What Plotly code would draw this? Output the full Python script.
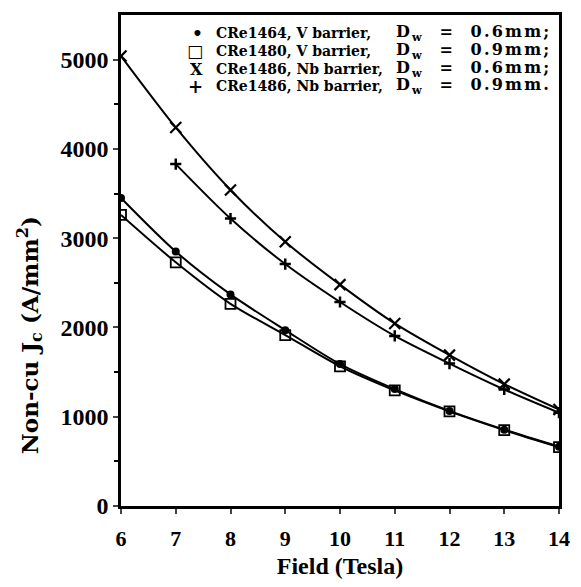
import plotly.graph_objects as go

field = [6, 7, 8, 9, 10, 11, 12, 13, 14]
field_nb09 = [7, 8, 9, 10, 11, 12, 13, 14]

jc_1464_v06 = [3450, 2850, 2370, 1970, 1590, 1310, 1065, 855, 665]
jc_1480_v09 = [3260, 2730, 2265, 1915, 1565, 1295, 1060, 850, 660]
jc_1486_nb06 = [5040, 4240, 3540, 2960, 2480, 2045, 1690, 1365, 1080]
jc_1486_nb09 = [3830, 3220, 2710, 2285, 1905, 1595, 1305, 1045]

legend_symbols = ["•", "□", "X", "+"]
legend_names = ["CRe1464, V barrier,", "CRe1480, V barrier,", "CRe1486, Nb barrier,", "CRe1486, Nb barrier,"]
legend_dw = ["0.6mm;", "0.9mm;", "0.6mm;", "0.9mm."]

xs = [field, field, field, field_nb09]
ys = [jc_1464_v06, jc_1480_v09, jc_1486_nb06, jc_1486_nb09]
markers = [
    dict(symbol="circle", size=8, color="black"),
    dict(symbol="square-open", size=10, color="black", line=dict(width=1.8, color="black")),
    dict(symbol="x-thin", size=11, color="black", line=dict(width=2.2, color="black")),
    dict(symbol="cross-thin", size=8, color="black", line=dict(width=2.5, color="black")),
]

FONT = "Liberation Serif"
WIDE = "DejaVu Serif"
fig = go.Figure()
for x, y in zip(xs, ys):
    fig.add_trace(go.Scatter(x=x, y=y, mode="lines", line=dict(color="black", width=2, shape="spline", smoothing=0.8),
                             showlegend=False, hoverinfo="skip"))
for x, y, n, m in zip(xs, ys, legend_names, markers):
    fig.add_trace(go.Scatter(x=x, y=y, mode="markers", marker=m, name=n, showlegend=False))

# legend drawn as text rows (paper coordinates)
row_y = [0.964, 0.927, 0.891, 0.855]
sym_size = [17, 17, 16, 18]
for i in range(4):
    fig.add_annotation(xref="paper", yref="paper", x=0.19, y=row_y[i], text=legend_symbols[i], showarrow=False,
                       xanchor="right", yanchor="middle", borderpad=0, height=16,
                       font=dict(family=WIDE, size=sym_size[i], color="black", weight="bold"))
    fig.add_annotation(xref="paper", yref="paper", x=0.214, y=row_y[i], text=legend_names[i], showarrow=False,
                       xanchor="left", yanchor="middle", borderpad=0, height=16,
                       font=dict(family=WIDE, size=14, color="black", weight="bold"))
    fig.add_annotation(xref="paper", yref="paper", x=0.625, y=row_y[i],
                       text="<span style='letter-spacing:2.2px'>D<sub>w</sub>&nbsp;&nbsp;=&nbsp;&nbsp;"
                            + legend_dw[i] + "</span>",
                       showarrow=False, xanchor="left", yanchor="middle", borderpad=0, height=16,
                       font=dict(family=WIDE, size=16, color="black", weight="bold"))

# y-axis title
fig.add_annotation(xref="paper", yref="paper", x=-0.21, y=0.348, text="Non-cu J<sub>c</sub> (A/mm<sup>2</sup>)",
                   textangle=-90, showarrow=False, xanchor="center", yanchor="middle",
                   font=dict(family=WIDE, size=23, color="black", weight="bold"))

fig.update_layout(
    width=581, height=587,
    margin=dict(l=121, r=11, t=15, b=76),
    paper_bgcolor="white", plot_bgcolor="white",
    font=dict(family=FONT, color="black", size=20, weight="bold"),
    showlegend=False,
)
fig.update_xaxes(range=[6, 14], tickvals=field, ticks="outside", ticklen=5, tickwidth=2, ticklabelstandoff=6,
                 showline=True, linewidth=2.5, linecolor="black", mirror=True, showgrid=False, zeroline=False,
                 tickfont=dict(family=FONT, size=22, weight="bold"),
                 title=dict(text="Field (Tesla)", font=dict(family=FONT, size=24, weight="bold"), standoff=8))
fig.update_yaxes(range=[0, 5500], tickvals=[0, 1000, 2000, 3000, 4000, 5000], ticks="outside", ticklen=5, tickwidth=2,
                 ticklabelstandoff=0,
                 minor=dict(tickvals=[500, 1500, 2500, 3500, 4500], ticks="outside", ticklen=4, tickwidth=1.5, tickcolor="black"),
                 showline=True, linewidth=2.5, linecolor="black", mirror=True, showgrid=False, zeroline=False,
                 tickfont=dict(family=FONT, size=24, weight="bold"))

fig.write_html("out.html")
